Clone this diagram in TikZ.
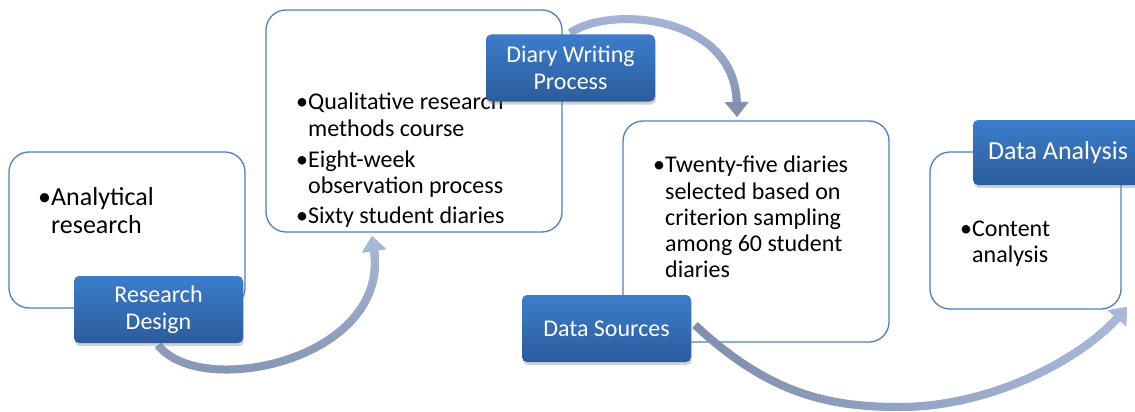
\documentclass[tikz,border=0pt]{standalone}
\usepackage{fontspec}
\setmainfont{Carlito}
\usetikzlibrary{shadows,arrows.meta,fadings}
\definecolor{boxline}{HTML}{4F81BD}
\definecolor{labtop}{HTML}{3C7DCB}
\definecolor{labbot}{HTML}{2C5C9C}
\definecolor{arrdark}{HTML}{7F8EAC}
\definecolor{arrlight}{HTML}{A9BADC}
\begin{document}
\begin{tikzpicture}[x=1pt,y=-1pt,
 panel/.style={draw=boxline, line width=1.3pt, rounded corners=20pt, fill=white, inner sep=0pt},
 tag/.style={rounded corners=5pt, top color=labtop, bottom color=labbot, text=white, align=center, minimum width=169pt, minimum height=67pt, inner sep=0pt, drop shadow={opacity=0.35, shadow xshift=1pt, shadow yshift=-3pt}, font=\fontsize{24}{27}\selectfont},
 txt/.style={anchor=base west, inner sep=0pt, font=\fontsize{24}{27}\selectfont},
 bigtxt/.style={anchor=base west, inner sep=0pt, font=\fontsize{26}{28}\selectfont},
 flow/.style={line width=8pt, -{Triangle[length=15pt,width=23pt]}},
]
\clip (0,0) rectangle (1135,412);
\fill[white] (0,0) rectangle (1135,412);
% panels
\node[panel, minimum width=236pt, minimum height=156pt] (p1) at (127,230) {};
\node[panel, minimum width=296pt, minimum height=222pt] (p2) at (414,121) {};
\node[panel, minimum width=266pt, minimum height=221pt] (p3) at (756,231.5) {};
\node[panel, minimum width=191pt, minimum height=157pt] (p4) at (1025.5,230.5) {};
% texts
\node[bigtxt] (t11) at (38,205) {\textbullet Analytical};
\node[bigtxt] (t12) at (38,233) {\hphantom{\textbullet}research};
\node[txt] (t21) at (296,109) {\textbullet Qualitative research};
\node[txt] (t22) at (296,136) {\hphantom{\textbullet}methods course};
\node[txt] (t23) at (296,167) {\textbullet Eight-week};
\node[txt] (t24) at (296,193) {\hphantom{\textbullet}observation process};
\node[txt] (t25) at (296,223) {\textbullet Sixty student diaries};
\node[txt] (t31) at (653,172) {\textbullet Twenty-five diaries};
\node[txt] (t32) at (653,199) {\hphantom{\textbullet}selected based on};
\node[txt] (t33) at (653,225) {\hphantom{\textbullet}criterion sampling};
\node[txt] (t34) at (653,251) {\hphantom{\textbullet}among 60 student};
\node[txt] (t35) at (653,277) {\hphantom{\textbullet}diaries};
\node[txt] (t41) at (960,236) {\textbullet Content};
\node[txt] (t42) at (960,262) {\hphantom{\textbullet}analysis};
% arrow end points
\coordinate (a1s) at (158,345);
\coordinate (a1e) at (372,236);
\coordinate (a2s) at (570,33);
\coordinate (a2e) at (737,117);
\coordinate (a3s) at (695,325);
\coordinate (a3m) at (900,407);
\coordinate (a3e) at (1127,307);
% arrows
\draw[flow, arrdark] (a1s) .. controls (200,400) and (390,360) .. (a1e);
\draw[flow, arrlight, path fading=south] (a1s) .. controls (200,400) and (390,360) .. (a1e);
\draw[flow, arrlight] (a2s) .. controls (610,5) and (735,15) .. (a2e);
\draw[flow, arrdark, path fading=north] (a2s) .. controls (610,5) and (735,15) .. (a2e);
\draw[flow, arrdark] (a3s) .. controls (770,395) and (830,407) .. (a3m) .. controls (990,407) and (1080,360) .. (a3e);
\draw[flow, arrlight, path fading=west] (a3s) .. controls (770,395) and (830,407) .. (a3m) .. controls (990,407) and (1080,360) .. (a3e);
% tags
\node[tag] (rd) at (158.5,309.5) {Research\\Design};
\node[tag] (dw) at (570.5,68) {Diary Writing\\Process};
\node[tag] (ds) at (606.5,328.5) {Data Sources};
\node[tag, minimum width=170pt, minimum height=65pt, font=\fontsize{26}{28}\selectfont] (da) at (1058,152.5) {Data Analysis};
\end{tikzpicture}
\end{document}
